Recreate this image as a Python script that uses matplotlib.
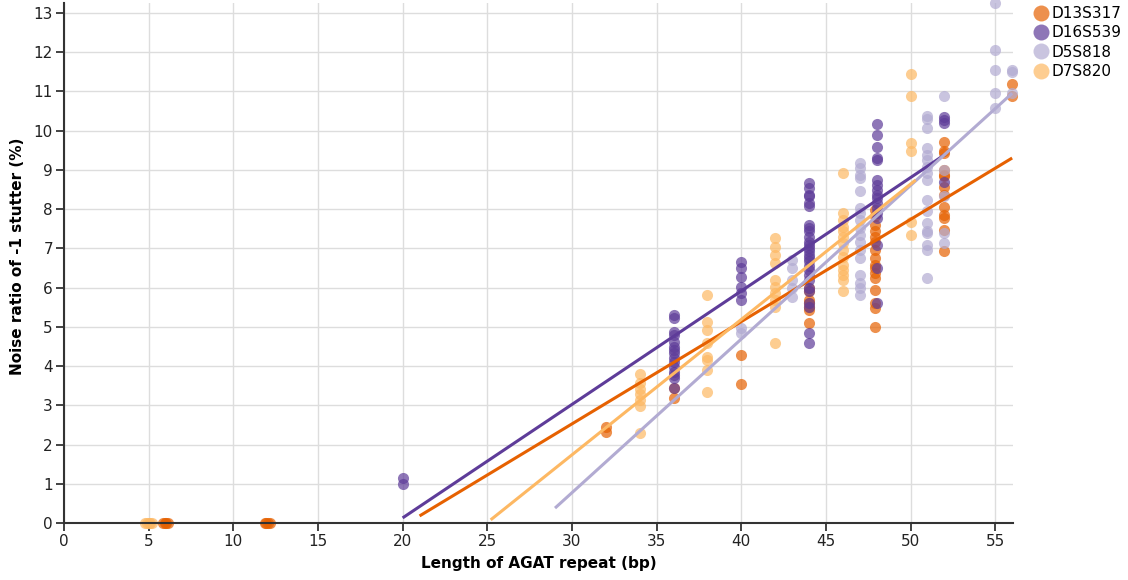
import matplotlib
matplotlib.use("Agg")
import matplotlib.pyplot as plt
from matplotlib.lines import Line2D

# ---------------- data ----------------
series_names = ["D13S317", "D16S539", "D5S818", "D7S820"]
series_colors = ["#e66101", "#5e3c99", "#b2abd2", "#fdb863"]

d13_x = ([5.85, 5.95, 6.05, 6.15] + [11.85, 11.95, 12.05, 12.15] + [32] * 2 + [36] * 2 + [40] * 2
         + [44] * 7 + [47.9] * 16 + [52] * 13 + [56] * 2)
d13_y = ([0, 0, 0, 0] + [0, 0, 0, 0] + [2.45, 2.32] + [3.44, 3.19] + [4.28, 3.54]
         + [6.0, 5.9, 5.68, 5.6, 5.51, 5.43, 5.09]
         + [7.98, 7.81, 7.60, 7.43, 7.30, 7.17, 6.96, 6.75, 6.58, 6.49, 6.36, 6.24, 5.94, 5.60, 5.47, 5.0]
         + [9.72, 9.47, 9.42, 9.0, 8.87, 8.83, 8.57, 8.36, 8.06, 7.85, 7.77, 7.47, 6.92]
         + [11.18, 10.88])

d16_x = [20] * 2 + [36] * 15 + [40] * 6 + [44] * 27 + [48] * 17 + [52] * 4
d16_y = ([1.15, 1.0]
         + [5.30, 5.23, 4.87, 4.79, 4.61, 4.49, 4.41, 4.33, 4.21, 4.10, 3.98, 3.85, 3.77, 3.70, 3.44]
         + [6.65, 6.50, 6.27, 6.02, 5.86, 5.68]
         + [8.67, 8.53, 8.36, 8.32, 8.15, 8.07, 7.60, 7.51, 7.43, 7.30, 7.17, 7.09, 7.00, 6.92,
            6.83, 6.75, 6.67, 6.56, 6.45, 6.33, 6.19, 6.0, 5.9, 5.6, 5.5, 4.84, 4.58]
         + [10.17, 9.89, 9.59, 9.30, 9.25, 8.74, 8.62, 8.49, 8.36, 8.28, 8.15, 8.02, 7.89, 7.77,
            7.09, 6.49, 5.60]
         + [10.34, 10.27, 10.2, 8.70])

d5_x = [40] * 2 + [43] * 5 + [47] * 17 + [51] * 17 + [52] * 5 + [55] * 5 + [56] * 3
d5_y = ([4.97, 4.84]
        + [6.70, 6.50, 6.19, 5.99, 5.76]
        + [9.17, 9.04, 8.87, 8.79, 8.45, 8.02, 7.89, 7.72, 7.51, 7.34, 7.17, 6.96, 6.75, 6.32,
           6.11, 5.98, 5.81]
        + [10.36, 10.29, 10.06, 9.55, 9.38, 9.25, 9.08, 8.91, 8.74, 8.23, 7.94, 7.64, 7.43,
           7.38, 7.09, 6.96, 6.24]
        + [10.88, 9.0, 8.32, 7.38, 7.13]
        + [13.26, 12.06, 11.55, 10.95, 10.57]
        + [11.55, 11.5, 10.95])

d7_x = [4.8, 4.9, 5.0, 5.1, 5.2] + [34] * 7 + [38] * 8 + [42] * 10 + [46] * 14 + [50] * 6
d7_y = ([0, 0, 0, 0, 0]
        + [3.80, 3.57, 3.41, 3.29, 3.14, 2.98, 2.29]
        + [5.81, 5.12, 4.92, 4.59, 4.23, 4.16, 3.90, 3.34]
        + [7.26, 7.04, 6.83, 6.63, 6.19, 6.02, 5.86, 5.68, 5.51, 4.59]
        + [8.91, 7.89, 7.72, 7.55, 7.43, 7.30, 7.13, 6.96, 6.79, 6.58, 6.45, 6.32, 6.19, 5.90]
        + [11.44, 10.88, 9.68, 9.47, 7.68, 7.34])

# trend lines (start / end)
trend_x0 = [21.0, 20.0, 29.0, 25.2]
trend_y0 = [0.18, 0.13, 0.38, 0.08]
trend_x1 = [56.0, 52.0, 56.0, 50.3]
trend_y1 = [9.30, 9.38, 10.95, 8.74]

x_ticks = [0, 5, 10, 15, 20, 25, 30, 35, 40, 45, 50, 55]
y_ticks = list(range(0, 14))

# ---------------- plot ----------------
fig = plt.figure(figsize=(11.28, 5.80), dpi=100)
ax = fig.add_axes([64 / 1128, 57 / 580, (1013 - 64) / 1128, (523 - 3) / 580])

all_x = [d13_x, d16_x, d5_x, d7_x]
all_y = [d13_y, d16_y, d5_y, d7_y]
for xs, ys, c in zip(all_x, all_y, series_colors):
    ax.scatter(xs, ys, s=64, color=c, alpha=0.7, linewidths=0, zorder=3, clip_on=False)

for i, c in enumerate(series_colors):
    ax.plot([trend_x0[i], trend_x1[i]], [trend_y0[i], trend_y1[i]], color=c, lw=2.2,
            zorder=4, solid_capstyle="butt")

ax.set_xlim(0, 56.05)
ax.set_ylim(0, 13.25)
ax.set_xticks(x_ticks)
ax.set_yticks(y_ticks)
ax.grid(True, color="#dddddd", linewidth=1.0, zorder=0)
ax.set_axisbelow(True)
for s in ["top", "right"]:
    ax.spines[s].set_visible(False)
for s in ["left", "bottom"]:
    ax.spines[s].set_color("#333333")
    ax.spines[s].set_linewidth(1.5)
    ax.spines[s].set_zorder(5)
ax.tick_params(axis="both", colors="#222222", labelsize=11, length=6, width=1.2,
               direction="out", pad=2)

ax.set_xlabel("Length of AGAT repeat (bp)", fontsize=11, fontweight="bold", labelpad=5)
ax.set_ylabel("Noise ratio of -1 stutter (%)", fontsize=11, fontweight="bold")
ax.yaxis.set_label_coords(-0.041, 0.513)

handles = [Line2D([0], [0], marker="o", linestyle="", markersize=11.5,
                  markerfacecolor=c, markeredgewidth=0, alpha=0.7)
           for c in series_colors]
fig.legend(handles, series_names, loc="upper left", bbox_to_anchor=(1023 / 1128, 1.0 + 3 / 580),
           frameon=False, fontsize=11, handletextpad=0.05, labelspacing=0.28,
           handlelength=1.2, borderaxespad=0.2)

fig.savefig("out.png", dpi=100)
